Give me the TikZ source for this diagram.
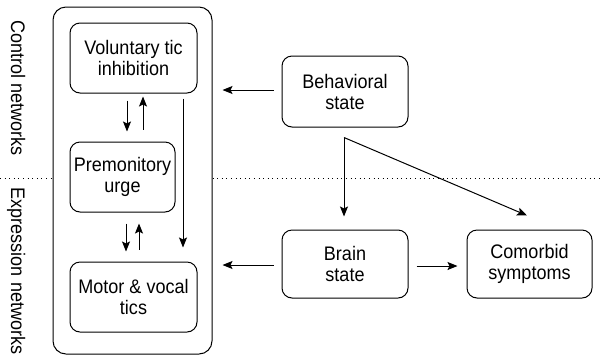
\documentclass[tikz,border=0pt]{standalone}
\usepackage{fontspec}
\setmainfont{Liberation Sans}[FakeStretch=0.92]
\usetikzlibrary{arrows.meta,calc}
\begin{document}
\begin{tikzpicture}[x=1pt,y=-1pt,
  box/.style={draw, line width=1pt, rounded corners=10pt, align=center, inner sep=0pt,
    font=\fontsize{19.6}{21}\selectfont},
  arr/.style={line width=1pt, -{Stealth[length=10pt,width=8pt,inset=2pt]}},
  lab/.style={rotate=-90, anchor=base, font=\fontsize{19.6}{21}\selectfont}]
\useasboundingbox (0,0) rectangle (601,357);
% outer box
\node[draw, line width=1pt, rounded corners=13pt, minimum width=159pt, minimum height=347pt, inner sep=0pt] (outer) at (132.5,180.5) {};
\node[box, minimum width=127pt, minimum height=70pt] (V) at (133.5,58) {Voluntary tic\\inhibition};
\node[box, minimum width=105pt, minimum height=70pt] (P) at (122.5,177) {Premonitory\\urge};
\node[box, minimum width=127pt, minimum height=70pt] (M) at (133.5,297) {Motor \& vocal\\tics};
\node[box, minimum width=126pt, minimum height=71pt] (B) at (345,91.5) {Behavioral\\state};
\node[box, minimum width=126pt, minimum height=68pt] (Br) at (345,264) {Brain\\state};
\node[box, minimum width=125pt, minimum height=68pt] (C) at (529.5,264) {Comorbid\\symptoms};
% side labels
\node[lab] (ctl) at (11,88) {Control networks};
\node[lab] (exp) at (11,271) {Expression networks};
% dotted separator
\coordinate (dl) at (0,178);
\coordinate (dr) at (601,178);
\draw[line width=1pt, dash pattern=on 1pt off 3.6pt] (dl) -- (dl -| outer.west);
\draw[line width=1pt, dash pattern=on 1pt off 3.6pt] (dr -| outer.east) -- (dr);
% inner arrows
\draw[arr, shorten <=7pt, shorten >=10pt] ([xshift=-6.5pt]V.south) -- ([xshift=-6.5pt]V.south |- P.north);
\draw[arr, shorten <=12pt, shorten >=3pt] ([xshift=9.5pt]V.south |- P.north) -- ([xshift=9.5pt]V.south);
\draw[arr, shorten <=11pt, shorten >=10pt] ([xshift=-7.5pt]M.north |- P.south) -- ([xshift=-7.5pt]M.north);
\draw[arr, shorten <=12pt, shorten >=11pt] ([xshift=5.5pt]M.north) -- ([xshift=5.5pt]M.north |- P.south);
\draw[arr, shorten <=5pt, shorten >=14pt] ([xshift=49.5pt]V.south) -- ([xshift=49.5pt]M.north);
% right side arrows
\draw[arr, shorten <=8pt, shorten >=10pt] (B.west |- 0,90) -- (outer.east |- 0,90);
\draw[arr, shorten <=8pt, shorten >=10pt] (Br.west |- 0,265) -- (outer.east |- 0,265);
\draw[arr, shorten <=8pt, shorten >=9pt] (Br.east |- 0,266) -- (C.west |- 0,266);
\coordinate (s) at ([xshift=-1pt,yshift=-10pt]B.south);
\draw[arr, shorten >=13pt] (s) -- (s |- Br.north);
\draw[arr] (s) -- ([xshift=-2.5pt,yshift=14pt]C.north);
\end{tikzpicture}
\end{document}
